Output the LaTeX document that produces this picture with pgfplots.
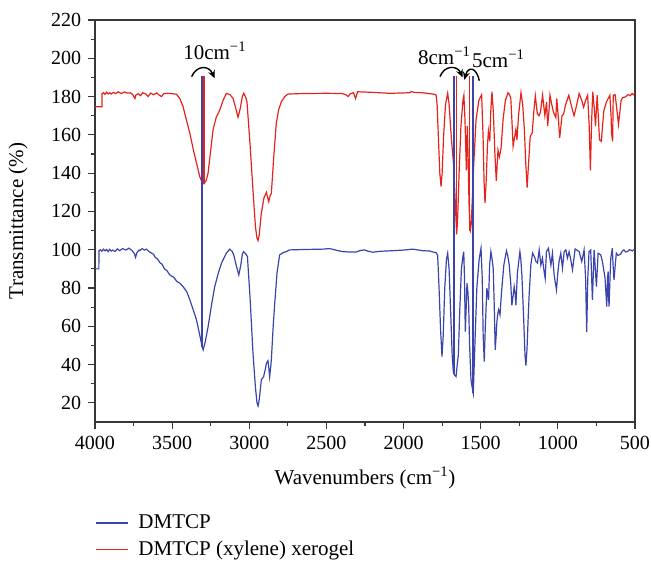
\documentclass[border=0pt]{standalone}
\usepackage{fontspec}
\setmainfont{Liberation Serif}
\usepackage{pgfplots}
\pgfplotsset{compat=1.18}
\usetikzlibrary{arrows.meta}
\definecolor{bl}{RGB}{59,68,170}
\definecolor{rd}{RGB}{228,36,28}
\definecolor{axc}{RGB}{55,55,55}
\newcommand{\fs}{\fontsize{20bp}{24bp}\selectfont}
\newcommand{\fl}{\fontsize{21bp}{25bp}\selectfont}
\begin{document}
\fs
\begin{tikzpicture}
\useasboundingbox (0,0) rectangle (651bp,565bp);
\begin{axis}[
 at={(95bp,143bp)}, anchor=south west,
 scale only axis, width=540bp, height=402bp,
 x dir=reverse, xmin=500, xmax=4000, ymin=10, ymax=220,
 xtick={500,1000,...,4000}, minor x tick num=1,
 ytick={20,40,...,220}, minor y tick num=1,
 tick align=outside, xtick pos=bottom, ytick pos=left,
 major tick length=7bp, minor tick length=4bp,
 axis line style={axc, line width=1.2bp},
 every tick/.style={axc, line width=1.1bp},
 /pgf/number format/assume math mode=true,
 /pgf/number format/set thousands separator={},
 ticklabel style={font=\fs, text=black},
 xlabel={Wavenumbers (cm\textsuperscript{−1})},
 ylabel={Transmittance (\%)},
 xlabel style={at={(axis description cs:0.5,-0.139)}, anchor=center, font=\fl},
 ylabel style={at={(axis description cs:-0.1426,0.5)}, anchor=center, font=\fl},
 legend style={at={(axis description cs:0,-0.225)}, anchor=north west, draw=none, fill=none, inner sep=0pt, row sep=5bp, font=\fl,
   /tikz/every odd column/.append style={column sep=8bp}},
 legend cell align=left,
 legend image code/.code={\draw[#1, line width=1.3bp] (0bp,0bp) -- (32bp,0bp);},
 clip=false,
]
\addplot[bl, line width=1.2bp] coordinates {
(4000,90) (3975,90) (3974,99.5) (3965,100) (3955,99.2) (3945,100.3) (3935,99.4) (3925,100.1) (3915,99) (3905,100.2) (3895,99.3) (3885,99.8) (3870,99.1) (3855,100.4) (3840,99.5) (3820,100.6) (3800,99.8) (3780,100.8) (3760,99.6) (3745,98) (3737,96) (3728,98.5) (3715,99.8) (3709,99.5) (3695,100.6) (3680,99.8) (3666,100.3) (3650,99) (3633,98.2) (3620,97.6) (3610,96) (3595,95.2) (3580,93.3) (3565,92.4) (3550,90) (3535,89.2) (3515,86.8) (3490,85.6) (3470,83.5) (3450,82.5) (3429,80.7) (3405,78) (3385,73.8) (3365,69) (3342,63.3) (3320,55) (3306,49.5) (3299,47.7) (3285,52) (3267,59.8) (3245,71) (3224,80.7) (3200,88) (3180,93) (3150,98) (3127,100.3) (3110,99) (3101,97.3) (3085,92) (3068,86.8) (3055,92) (3044,98) (3036,99) (3020,97.5) (3012,96.4) (2995,75) (2976,46) (2960,28) (2950,20) (2943,18.4) (2935,22) (2922,32) (2907,33.7) (2895,38) (2889,40.7) (2879,42) (2873,38) (2868,33.7) (2862,38) (2857,42.5) (2845,60) (2835,72) (2820,88) (2803,97.3) (2780,98.5) (2760,99) (2738,99.9) (2650,100.1) (2523,100.3) (2480,100.6) (2430,99.6) (2394,99) (2350,98.8) (2307,98.8) (2280,99.6) (2253,99.9) (2230,99.2) (2199,98.7) (2150,99.2) (2091,99.4) (2000,99.8) (1941,100.3) (1900,99.8) (1876,99.5) (1830,99.3) (1800,98.6) (1789,98.5) (1779,97) (1770,80) (1760,58) (1751,44.2) (1743,55) (1733,80) (1722,95) (1714,98.2) (1705,90) (1695,68) (1685,45) (1677,36) (1671,34.6) (1660,33.7) (1650,41.6) (1645,45) (1635,70) (1625,90) (1617,95.6) (1610,99) (1605,85) (1600,57.2) (1594,70) (1589,82.5) (1583,78) (1578,71) (1572,50) (1563,32) (1555,28) (1548,25) (1540,45) (1525,80) (1510,95) (1498,100.8) (1490,85) (1484,55) (1477,41.6) (1470,60) (1460,79.9) (1455,77) (1449,73.8) (1442,92) (1434,99) (1426,95) (1419,90.3) (1412,70) (1406,47.7) (1400,55) (1395,62.5) (1390,66) (1384,68.6) (1378,67) (1375,66) (1365,78) (1350,92) (1333,99.4) (1325,97) (1315,92) (1305,82) (1298,71) (1290,76) (1283,80.7) (1277,77) (1272,71) (1262,88) (1246,99) (1240,95) (1233,86.8) (1222,65) (1213,45) (1207,39.5) (1200,48) (1192,65) (1186,76.4) (1175,92) (1164,98.2) (1150,96) (1142,93.8) (1132,93) (1121,99.9) (1110,92) (1100,95.6) (1089,88.6) (1082,85.1) (1074,99) (1061,100.8) (1045,92) (1035,98.2) (1024,86.8) (1009,79) (1000,88) (992,93.8) (981,98.2) (970,90.3) (959,99) (948,99.9) (938,95.6) (927,99) (916,94.7) (905,89.5) (888,100.4) (862,99) (845,93.8) (830,99.9) (820,85) (813,56.9) (806,85) (798,99) (787,99.9) (776,73.8) (765,99.9) (750,80.7) (739,98.2) (722,97.3) (711,93.8) (694,85.1) (683,70.3) (678,85) (674,88.6) (671,75) (668,70.3) (662,85) (657,95.6) (647,100.8) (642,92) (636,84.2) (628,92) (621,98.2) (610,97) (593,97.7) (582,99.3) (572,99.9) (560,98.8) (550,99) (535,100) (517,99.4) (505,100.2) (500,99.8)
};
\addlegendentry{DMTCP}
\addplot[rd, line width=1.2bp] coordinates {
(4000,174.7) (3955,174.7) (3954,181.5) (3945,182) (3935,181.2) (3925,182.3) (3915,181.4) (3905,182) (3895,181.3) (3880,182.2) (3865,181.5) (3850,182.5) (3830,181.6) (3810,182.4) (3790,181.8) (3770,182) (3755,181) (3745,179.5) (3741,179) (3735,180.8) (3720,181.5) (3705,180.5) (3690,182) (3670,181.3) (3655,180) (3640,181.8) (3620,181) (3600,181.9) (3585,180.8) (3569,180) (3555,181.5) (3530,181.7) (3500,181.5) (3472,181.2) (3450,179) (3429,174.7) (3405,167) (3385,160.8) (3362,152) (3342,145.2) (3320,138) (3305,135) (3295,134.4) (3280,136) (3267,140) (3250,152) (3235,162.6) (3215,169) (3191,173) (3170,178) (3148,181.7) (3125,181) (3105,179) (3088,174) (3073,169.2) (3058,174) (3045,180) (3036,181.7) (3025,180) (3015,177.3) (2995,155) (2976,131) (2960,112) (2950,106) (2943,104.8) (2935,108) (2922,119) (2905,127) (2889,130) (2880,127) (2874,125.1) (2866,128) (2857,129.5) (2840,150) (2825,166) (2810,173) (2792,177.3) (2770,180) (2749,181.3) (2650,181.6) (2500,181.7) (2400,181.6) (2375,181) (2360,180) (2345,181.5) (2325,182) (2311,179) (2298,182.5) (2200,182.2) (2091,181.7) (2000,181.9) (1960,182) (1951,182.6) (1930,182.2) (1880,182) (1830,181.5) (1800,181.2) (1789,180.8) (1782,175) (1774,158) (1765,140) (1757,133) (1750,140) (1740,160) (1728,176) (1714,181.7) (1705,176) (1690,158) (1675,143.8) (1665,125) (1656,108) (1650,115) (1640,140) (1628,165) (1615,178) (1609,180.7) (1602,168) (1593,141.4) (1587,164.6) (1582,150) (1576,125) (1570,111) (1567,110) (1562,113) (1555,125) (1545,145) (1530,168) (1512,178) (1494,181) (1485,160) (1478,135) (1472,124.4) (1465,135) (1456,155) (1450,162) (1441,156.6) (1435,172) (1427,182.5) (1418,172) (1408,150) (1399,136) (1393,145) (1388,152) (1379,148.5) (1368,153) (1355,168) (1340,178) (1323,182) (1313,181) (1305,179) (1298,168) (1290,154) (1282,158) (1272,162.8) (1265,157.4) (1255,170) (1239,182) (1228,176) (1217,162.8) (1208,145) (1199,132.4) (1190,145) (1179,159.2) (1166,161) (1156,172) (1146,180.3) (1133,171) (1122,170) (1113,171.8) (1099,180.7) (1084,170) (1073,177.2) (1066,164.6) (1058,172) (1051,180.7) (1040,176) (1028,171.8) (1013,169) (1007,179) (998,170) (988,158.4) (973,170) (962,171) (951,175.4) (929,180.7) (913,175.4) (895,170) (884,173.5) (862,181.6) (845,178) (833,174.4) (820,178) (807,180.7) (797,165) (789,141.4) (782,165) (774,182.5) (765,175) (756,164.6) (745,180.7) (738,170) (730,157.4) (718,156.6) (710,165) (702,172.6) (685,177.2) (663,180.7) (655,170) (652,161) (645,156.6) (641,180.7) (629,181) (620,175) (607,165.5) (598,172) (590,178) (580,179.5) (563,179.8) (545,181) (530,180.5) (519,181.6) (510,181) (500,182)
};
\addlegendentry{DMTCP (xylene) xerogel}
% marker lines at the peak positions
\addplot[bl, line width=1.2bp, forget plot] coordinates {(3306,49) (3306,191)};
\addplot[bl, line width=1.2bp, forget plot] coordinates {(1673,35) (1673,191)};
\addplot[bl, line width=1.2bp, forget plot] coordinates {(1550,25) (1550,191)};
\addplot[rd, line width=1.2bp, forget plot] coordinates {(3293,134.5) (3293,191)};
\addplot[rd, line width=1.2bp, forget plot] coordinates {(1656,108) (1656,191)};
\addplot[rd, line width=1.2bp, forget plot] coordinates {(1572,110) (1572,191)};
% arrows and labels
\draw[line width=1.4bp, -{Stealth[length=8bp,width=7bp]}] (axis cs:3374,190.4) .. controls (axis cs:3340,196.5) and (axis cs:3262,196.5) .. (axis cs:3224,189.5);
\draw[line width=1.4bp, -{Stealth[length=8bp,width=7bp]}] (axis cs:1764,190.4) .. controls (axis cs:1735,196.5) and (axis cs:1652,196.5) .. (axis cs:1617,190);
\draw[line width=1.4bp, -{Stealth[length=8bp,width=7bp]}] (axis cs:1509,188.3) .. controls (axis cs:1528,195.5) and (axis cs:1582,196) .. (axis cs:1606,188.7);
\node[anchor=base, inner sep=0pt, font=\fl] at (axis cs:3224,199.5) {10cm\textsuperscript{−1}};
\node[anchor=base, inner sep=0pt, font=\fl] at (axis cs:1736,197) {8cm\textsuperscript{−1}};
\node[anchor=base, inner sep=0pt, font=\fl] at (axis cs:1386,195.3) {5cm\textsuperscript{−1}};
\end{axis}
\end{tikzpicture}
\end{document}
